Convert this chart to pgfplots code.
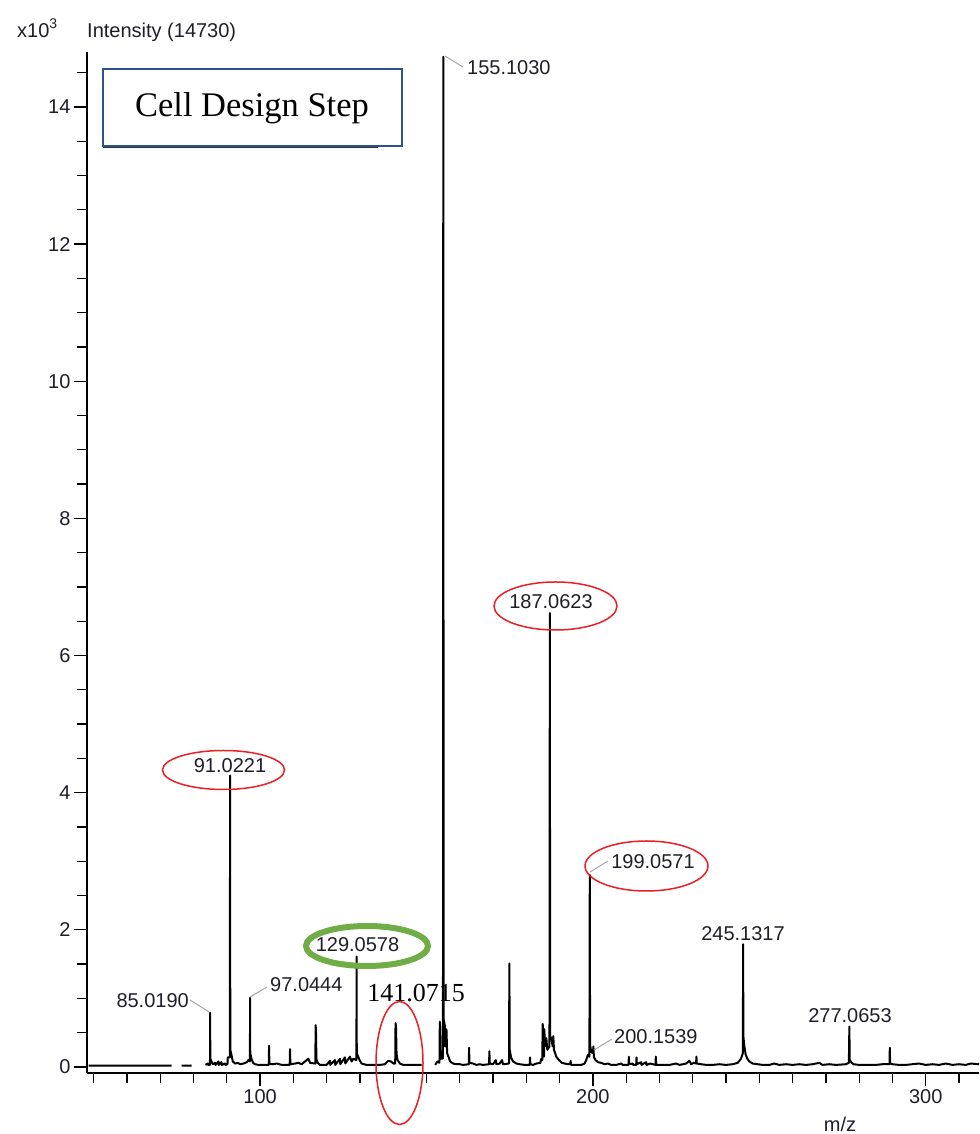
\documentclass[border=0pt]{standalone}
\usepackage{pgfplots}
\pgfplotsset{compat=1.18}
\usepackage{fontspec}
\setmainfont{Liberation Sans}
\newfontfamily\tnr{Liberation Serif}
\definecolor{txt}{RGB}{30,30,40}
\definecolor{boxblue}{RGB}{47,82,143}
\definecolor{ogreen}{RGB}{112,173,71}
\definecolor{ored}{RGB}{235,30,35}
\newcommand{\pp}[2]{({(#1-87)*1pt},{(1073-#2)*1pt})}
\begin{document}
\begin{tikzpicture}
\path[use as bounding box] (-87pt,-61pt) rectangle (892pt,1073pt);
\begin{axis}[
  at={(0pt,0pt)}, anchor=south west,
  scale only axis, width=892pt, height=1021pt,
  xmin=48, xmax=316, ymin=-0.088, ymax=14.80,
  axis x line=bottom, axis y line=left,
  axis line style={-, line width=1.3pt, black},
  xtick={100,200,300}, minor xtick={50,60,...,310},
  ytick={0,2,...,14}, minor ytick={0.5,1,...,14.5},
  tick align=outside,
  major tick length=13pt, minor tick length=10pt,
  tick style={line width=1.3pt, black},
  tick label style={font=\fontsize{20}{24}\selectfont, text=txt, /pgf/number format/assume math mode=true},
  unbounded coords=jump,
  clip=false,
]
\addplot[black, line width=2pt, line join=round] coordinates {
(48.5,0.02) (60,0.02) (73.4,0.02) (73.5,nan)
(76.4,0.02) (79.4,0.02) (79.5,nan)
(83.6,0.03) (84.3,0.05) (84.4,0.03) (84.95,0.03) (85.0,0.79) (85.05,0.12) (85.4,0.08) (85.8,0.04) (86.5,0.06) (86.6,0.03) (87.5,0.08) (87.6,0.03) (88.4,0.07) (88.5,0.03) (89.5,0.05) (89.6,0.03) (90.2,0.04) (90.3,0.14) (90.9,0.14) (91.0,4.25) (91.05,0.25) (91.4,0.18) (91.8,0.08) (92.5,0.05) (93.3,0.06) (94,0.04) (95,0.05) (96,0.07) (96.5,0.1) (96.95,0.08) (97.0,1.01) (97.05,0.2) (97.4,0.12) (97.9,0.06) (98.5,0.04) (99.5,0.03) (101,0.03) (102.6,0.03) (102.7,0.31) (102.8,0.04) (104,0.04) (105,0.05) (106.5,0.03) (108.9,0.03) (109,0.26) (109.1,0.04) (110.5,0.05) (111.5,0.06) (112.5,0.04) (113.5,0.08) (114.5,0.12) (115,0.06) (116.6,0.05) (116.7,0.61) (116.85,0.45) (116.9,0.12) (117.3,0.06) (118,0.03) (120,0.03) (121,0.09) (121.1,0.03) (122.5,0.1) (122.6,0.03) (124,0.12) (124.1,0.04) (125.5,0.14) (125.6,0.05) (127,0.15) (127.5,0.08) (128,0.12) (128.95,0.1) (129.0,1.61) (129.05,0.2) (129.4,0.16) (129.9,0.1) (130.5,0.05) (132,0.03) (134,0.03) (136,0.03) (137.5,0.04) (138.5,0.09) (139.3,0.08) (140.1,0.05) (140.6,0.05) (140.7,0.64) (140.85,0.58) (141.0,0.2) (141.3,0.1) (142,0.05) (143,0.03) (146,0.03) (148.5,0.03) (148.6,nan)
(152.6,0.03) (153.3,0.08) (153.9,0.06) (154.0,0.66) (154.1,0.55) (154.25,0.12) (154.95,0.12) (155.05,14.73) (155.15,0.7) (155.5,0.6) (155.6,0.3) (155.9,0.35) (156,0.55) (156.2,0.2) (156.6,0.15) (157.1,0.08) (158,0.05) (159,0.04) (160,0.04) (161,0.03) (162.7,0.04) (162.8,0.28) (162.9,0.06) (164,0.05) (165,0.03) (166,0.04) (167,0.03) (168.8,0.04) (168.9,0.23) (169,0.05) (170,0.04) (170.8,0.1) (171,0.04) (172,0.05) (172.7,0.1) (173,0.04) (174.8,0.05) (174.9,1.51) (175,0.25) (175.4,0.14) (176,0.08) (177,0.05) (178,0.04) (179.5,0.03) (181,0.03) (181.1,0.14) (181.2,0.04) (182,0.03) (183,0.05) (184.2,0.06) (184.5,0.12) (184.8,0.1) (184.9,0.63) (185.0,0.58) (185.1,0.15) (185.3,0.15) (185.4,0.55) (185.6,0.3) (185.9,0.35) (186,0.42) (186.3,0.25) (186.95,0.3) (187.06,6.62) (187.15,0.45) (187.6,0.4) (187.9,0.3) (188.1,0.45) (188.3,0.25) (189,0.15) (189.8,0.1) (190.7,0.06) (191.5,0.05) (192.5,0.04) (193.2,0.04) (193.3,0.09) (193.4,0.03) (195,0.03) (196.5,0.03) (197.5,0.05) (198,0.1) (198.5,0.18) (198.95,0.15) (199.06,2.80) (199.15,0.32) (199.5,0.22) (200.0,0.2) (200.15,0.3) (200.3,0.14) (200.8,0.1) (201.5,0.07) (202.5,0.06) (203.5,0.04) (204.5,0.05) (205.5,0.03) (207,0.03) (208.5,0.05) (209,0.03) (210.7,0.03) (210.8,0.15) (210.9,0.04) (212,0.05) (212.1,0.03) (213,0.03) (213.1,0.14) (213.2,0.04) (214.5,0.07) (214.6,0.03) (216,0.07) (216.1,0.03) (217.2,0.05) (218.8,0.03) (218.9,0.15) (219,0.03) (221,0.03) (223,0.03) (225,0.05) (226,0.03) (228,0.05) (229,0.09) (229.5,0.04) (230.3,0.06) (231,0.05) (231.1,0.15) (231.2,0.05) (232.5,0.04) (234,0.03) (236,0.03) (238,0.04) (240,0.03) (242,0.04) (243.5,0.06) (244.5,0.12) (245.05,0.2) (245.13,1.79) (245.2,0.45) (245.5,0.3) (245.9,0.18) (246.4,0.12) (247,0.08) (248,0.05) (249.5,0.04) (251,0.03) (253,0.03) (254.5,0.05) (256,0.03) (258,0.04) (260,0.03) (262,0.04) (264,0.03) (266,0.04) (268,0.06) (269,0.03) (271,0.04) (273,0.03) (276,0.04) (276.9,0.06) (277.05,0.59) (277.15,0.1) (277.6,0.07) (278.3,0.04) (280,0.03) (282.5,0.03) (285,0.03) (287,0.04) (289.1,0.04) (289.2,0.28) (289.3,0.05) (290,0.04) (292,0.03) (294,0.03) (296,0.04) (298,0.05) (300,0.03) (302,0.04) (304,0.03) (306,0.05) (308,0.03) (310,0.04) (312,0.03) (313.5,0.05) (316,0.04)
};
\end{axis}
% header texts
\node[anchor=base west, inner sep=0, text=txt, font=\fontsize{20}{24}\selectfont] at \pp{17}{38} {x10\raisebox{9pt}{\fontsize{14}{14}\selectfont 3}};
\node[anchor=base west, inner sep=0, text=txt, font=\fontsize{20}{24}\selectfont] at \pp{87}{38} {Intensity (14730)};
\node[inner sep=0, text=txt, font=\fontsize{20}{24}\selectfont] at \pp{840}{1124} {m/z};
% Cell Design Step box
\draw[black!80, line width=1.2pt] \pp{103}{147.5} -- \pp{378}{147.5};
\draw[boxblue, line width=2pt, fill=white] \pp{103}{69} rectangle \pp{402}{146};
\node[inner sep=0, font=\tnr\fontsize{34.5}{40}\selectfont] at \pp{252}{108} {Cell Design Step};
% peak labels
\begin{scope}[every node/.style={inner sep=0, text=txt, font=\fontsize{20}{24}\selectfont}]
\draw[gray!70, line width=1pt] \pp{445}{56} -- \pp{463}{67};
\node[anchor=west] at \pp{467}{68} {155.1030};
\node at \pp{230}{766} {91.0221};
\draw[ored, line width=1.5pt] \pp{223.5}{770} ellipse [x radius=61pt, y radius=19.5pt];
\node at \pp{551}{602} {187.0623};
\draw[ored, line width=1.5pt] \pp{555.5}{606} ellipse [x radius=61.5pt, y radius=24pt];
\draw[gray!70, line width=1pt] \pp{590}{872} -- \pp{608}{861};
\node at \pp{653}{862} {199.0571};
\draw[ored, line width=1.5pt] \pp{646.5}{866} ellipse [x radius=61.5pt, y radius=25pt];
\node at \pp{357.5}{945} {129.0578};
\draw[ogreen, line width=6pt] \pp{367}{946} ellipse [x radius=61pt, y radius=20pt];
\node[text=black, font=\tnr\fontsize{26}{30}\selectfont] at \pp{416}{993} {141.0715};
\draw[ored, line width=1.5pt] \pp{399.5}{1063} ellipse [x radius=23.5pt, y radius=61.5pt];
\draw[gray!70, line width=1pt] \pp{190}{1000} -- \pp{209}{1012};
\node[anchor=east] at \pp{189}{1001} {85.0190};
\draw[gray!70, line width=1pt] \pp{267}{987} -- \pp{250}{997};
\node[anchor=west] at \pp{270}{985} {97.0444};
\draw[gray!70, line width=1pt] \pp{612}{1039} -- \pp{594}{1050};
\node[anchor=west] at \pp{614}{1037} {200.1539};
\node at \pp{743}{934} {245.1317};
\node at \pp{850}{1016} {277.0653};
\end{scope}
\end{tikzpicture}
\end{document}
